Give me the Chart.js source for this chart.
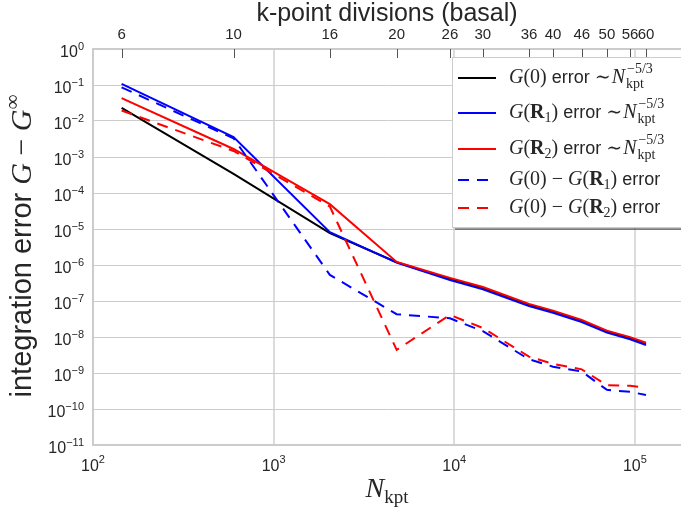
<!DOCTYPE html>
<html>
<head>
<meta charset="utf-8">
<script src="https://cdn.jsdelivr.net/npm/chart.js@4.4.0/dist/chart.umd.min.js"></script>
<style>
html,body{margin:0;padding:0;background:#fff;}
#wrap{width:681px;height:514px;position:relative;}
canvas{display:block;}
</style>
</head>
<body>
<div id="wrap"><canvas id="c" width="681" height="514"></canvas></div>
<script>
// ---------------- data ----------------
const divisions = [6, 10, 16, 20, 26, 30, 36, 40, 46, 50, 56, 60];
const nkpt      = [144, 600, 2048, 4800, 9464, 14400, 25920, 35200, 50784, 70000, 94080, 115200];
const errG0  = [2.3e-2, 3.4e-4, 7.7e-6, 1.19e-6, 4.1e-7, 2.25e-7, 7.7e-8, 5.0e-8, 2.8e-8, 1.40e-8, 9.2e-9, 6.4e-9];
const errGR1 = [1.07e-1, 3.6e-3, 8.2e-6, 1.17e-6, 3.8e-7, 2.1e-7, 7.2e-8, 4.7e-8, 2.6e-8, 1.32e-8, 8.6e-9, 6.0e-9];
const errGR2 = [4.3e-2, 1.67e-3, 4.9e-5, 1.22e-6, 4.4e-7, 2.45e-7, 8.3e-8, 5.4e-8, 3.0e-8, 1.50e-8, 9.9e-9, 6.9e-9];
const diffR1 = [8.6e-2, 3.3e-3, 5.3e-7, 4.3e-8, 3.3e-8, 1.45e-8, 2.4e-9, 1.5e-9, 1.1e-9, 3.4e-10, 3.0e-10, 2.45e-10];
const diffR2 = [1.95e-2, 1.47e-3, 4.2e-5, 4.4e-9, 4.1e-8, 1.78e-8, 2.85e-9, 1.8e-9, 1.26e-9, 4.6e-10, 4.4e-10, 3.9e-10];
const xTickExps = [2, 3, 4, 5];
const yTickExps = [0, -1, -2, -3, -4, -5, -6, -7, -8, -9, -10, -11];

// ---------------- styling ----------------
const SANS  = '"Liberation Sans", Arial, Helvetica, sans-serif';
const SERIF = '"Liberation Serif", "Times New Roman", serif';
const TXT = '#262626';

const pts = arr => nkpt.map((n, i) => ({x: n, y: arr[i]}));

function richWidth(ctx, segs) {
  let w = 0;
  for (const s of segs) {
    if (s.stack) {
      let m = 0;
      for (const t of s.stack) { ctx.font = t.f; m = Math.max(m, ctx.measureText(t.t).width + (t.dx || 0)); }
      w += m;
    } else {
      ctx.font = s.f; w += ctx.measureText(s.t).width + (s.dx || 0);
    }
  }
  return w;
}
function drawRich(ctx, x, y, segs) {
  let cx = x;
  for (const s of segs) {
    if (s.stack) {
      let m = 0;
      for (const t of s.stack) {
        ctx.font = t.f;
        ctx.fillText(t.t, cx + (t.dx || 0), y + (t.dy || 0));
        m = Math.max(m, ctx.measureText(t.t).width + (t.dx || 0));
      }
      cx += m;
    } else {
      ctx.font = s.f;
      ctx.fillText(s.t, cx + (s.dx || 0), y + (s.dy || 0));
      cx += ctx.measureText(s.t).width + (s.dx || 0);
    }
  }
  return cx - x;
}

const supMinus = e => (e < 0 ? '\u2212' + (-e) : String(e));

const LI = `italic 20px ${SERIF}`, LR = `20px ${SERIF}`, LB = `bold 20px ${SERIF}`, LS = `14px ${SERIF}`;
const segG0 = [{t:'G', f:LI}, {t:'(0)', f:LR}];
const segGR = k => [{t:'G', f:LI}, {t:'(', f:LR}, {t:'R', f:LB}, {t:String(k), f:LS, dy:4}, {t:')', f:LR}];
const segErr = {t:' error ', f:`18px ${SANS}`};
const segScale = [{t:'\u223C', f:`19px "DejaVu Serif", serif`, dx:0}, {t:'N', f:LI, dx:1},
  {stack:[{t:'kpt', f:LS, dy:5, dx:1}, {t:'\u22125/3', f:LS, dy:-10, dx:2}]}];
const legendRows = [
  {color:'#000000', dash:[], y:78,  segs:[...segG0, segErr, ...segScale]},
  {color:'#0000ff', dash:[], y:113, segs:[...segGR(1), segErr, ...segScale]},
  {color:'#ff0000', dash:[], y:149, segs:[...segGR(2), segErr, ...segScale]},
  {color:'#0000ff', dash:[11,8], y:180, segs:[...segG0, {t:' \u2212 ', f:LR}, ...segGR(1), {t:' error', f:`18px ${SANS}`}]},
  {color:'#ff0000', dash:[11,8], y:208, segs:[...segG0, {t:' \u2212 ', f:LR}, ...segGR(2), {t:' error', f:`18px ${SANS}`}]},
];

const decorPlugin = {
  id: 'decor',
  afterDraw(chart) {
    const ctx = chart.ctx;
    const xs = chart.scales.x, x2 = chart.scales.x2, ys = chart.scales.y;
    const area = chart.chartArea;
    ctx.save();
    ctx.fillStyle = TXT;
    ctx.textBaseline = 'alphabetic';
    ctx.textAlign = 'left';

    // top tick marks (inside)
    ctx.strokeStyle = '#555';
    ctx.lineWidth = 1;
    nkpt.forEach(n => {
      const px = Math.round(x2.getPixelForValue(n)) + 0.5;
      ctx.beginPath(); ctx.moveTo(px, area.top); ctx.lineTo(px, area.top + 9); ctx.stroke();
    });

    // top tick labels
    ctx.font = `15px ${SANS}`;
    ctx.textAlign = 'center';
    nkpt.forEach((n, i) => {
      ctx.fillText(String(divisions[i]), x2.getPixelForValue(n), 39);
    });
    ctx.textAlign = 'left';

    // top title
    ctx.font = `25px ${SANS}`;
    ctx.textAlign = 'center';
    ctx.fillText('k-point divisions (basal)', (area.left + area.right) / 2, 21);
    ctx.textAlign = 'left';

    // y tick labels
    yTickExps.forEach(e => {
      const py = ys.getPixelForValue(Math.pow(10, e));
      const segs = [{t:'10', f:`16px ${SANS}`}, {t:supMinus(e), f:`11px ${SANS}`, dy:-7}];
      const w = richWidth(ctx, segs);
      drawRich(ctx, 84 - w, py + 8, segs);
    });

    // x tick labels
    xTickExps.forEach(e => {
      const px = xs.getPixelForValue(Math.pow(10, e));
      const segs = [{t:'10', f:`16px ${SANS}`}, {t:supMinus(e), f:`11px ${SANS}`, dy:-8}];
      const w = richWidth(ctx, segs);
      drawRich(ctx, px - w / 2, 471, segs);
    });

    // x title
    const xt = [{t:'N', f:`italic 28px ${SERIF}`}, {t:'kpt', f:`19px ${SERIF}`, dy:6}];
    const xw = richWidth(ctx, xt);
    drawRich(ctx, (area.left + area.right) / 2 - xw / 2, 497, xt);

    // y title
    const yt = [{t:'integration error ', f:`29px ${SANS}`}, {t:'G', f:`italic 30px ${SERIF}`},
      {t:' \u2212 ', f:`30px ${SERIF}`}, {t:'G', f:`italic 30px ${SERIF}`}, {t:'\u221E', f:`21px ${SERIF}`, dy:-12}];
    const yw = richWidth(ctx, yt);
    ctx.save();
    ctx.translate(0, 246);
    ctx.rotate(-Math.PI / 2);
    drawRich(ctx, -yw / 2, 31, yt);
    ctx.restore();

    // legend
    const bx = 452, by = 57, bw = 240, bh = 170;
    ctx.fillStyle = 'rgba(0,0,0,0.4)';
    ctx.fillRect(bx + 3, by + 3, bw, bh);
    ctx.fillStyle = '#ffffff';
    ctx.fillRect(bx, by, bw, bh);
    ctx.strokeStyle = '#cccccc';
    ctx.lineWidth = 1;
    ctx.strokeRect(bx + 0.5, by + 0.5, bw, bh);
    legendRows.forEach(r => {
      ctx.strokeStyle = r.color;
      ctx.lineWidth = 2;
      ctx.setLineDash(r.dash);
      ctx.beginPath(); ctx.moveTo(458, r.y); ctx.lineTo(496, r.y); ctx.stroke();
      ctx.setLineDash([]);
      ctx.fillStyle = TXT;
      drawRich(ctx, 509, r.y + 5, r.segs);
    });
    ctx.restore();
  }
};

const mk = (data, color, dash, order) => ({
  data: pts(data), borderColor: color, backgroundColor: color, borderWidth: 2,
  borderDash: dash, pointRadius: 0, tension: 0, fill: false, order,
  xAxisID: 'x', yAxisID: 'y'
});

new Chart(document.getElementById('c'), {
  type: 'line',
  data: {
    datasets: [
      mk(errG0,  '#000000', [], 5),
      mk(errGR1, '#0000ff', [], 4),
      mk(errGR2, '#ff0000', [], 3),
      mk(diffR1, '#0000ff', [11, 8], 2),
      mk(diffR2, '#ff0000', [11, 8], 1),
    ]
  },
  options: {
    responsive: false,
    animation: false,
    devicePixelRatio: 1,
    layout: {padding: 0},
    plugins: {legend: {display: false}, tooltip: {enabled: false}},
    scales: {
      x: {
        type: 'logarithmic', position: 'bottom', min: 100, max: 1.8e5,
        afterBuildTicks: s => { s.ticks = xTickExps.map(e => ({value: Math.pow(10, e)})); },
        afterFit: s => { s.height = 69; },
        ticks: {display: false},
        grid: {color: '#dcdcdc', lineWidth: 2, drawTicks: false},
        border: {display: true, color: '#cccccc', width: 2}
      },
      x2: {
        type: 'logarithmic', position: 'top', min: 100, max: 1.8e5,
        afterBuildTicks: s => { s.ticks = nkpt.map(v => ({value: v})); },
        afterFit: s => { s.height = 49; },
        ticks: {display: false},
        grid: {display: false, drawTicks: false},
        border: {display: true, color: '#cccccc', width: 2}
      },
      y: {
        type: 'logarithmic', position: 'left', min: 1e-11, max: 1,
        afterBuildTicks: s => { s.ticks = yTickExps.map(e => ({value: Math.pow(10, e)})); },
        afterFit: s => { s.width = 93; },
        ticks: {display: false},
        grid: {color: '#cccccc', lineWidth: 1, drawTicks: false},
        border: {display: true, color: '#cccccc', width: 2}
      }
    }
  },
  plugins: [decorPlugin]
});
</script>
</body>
</html>
